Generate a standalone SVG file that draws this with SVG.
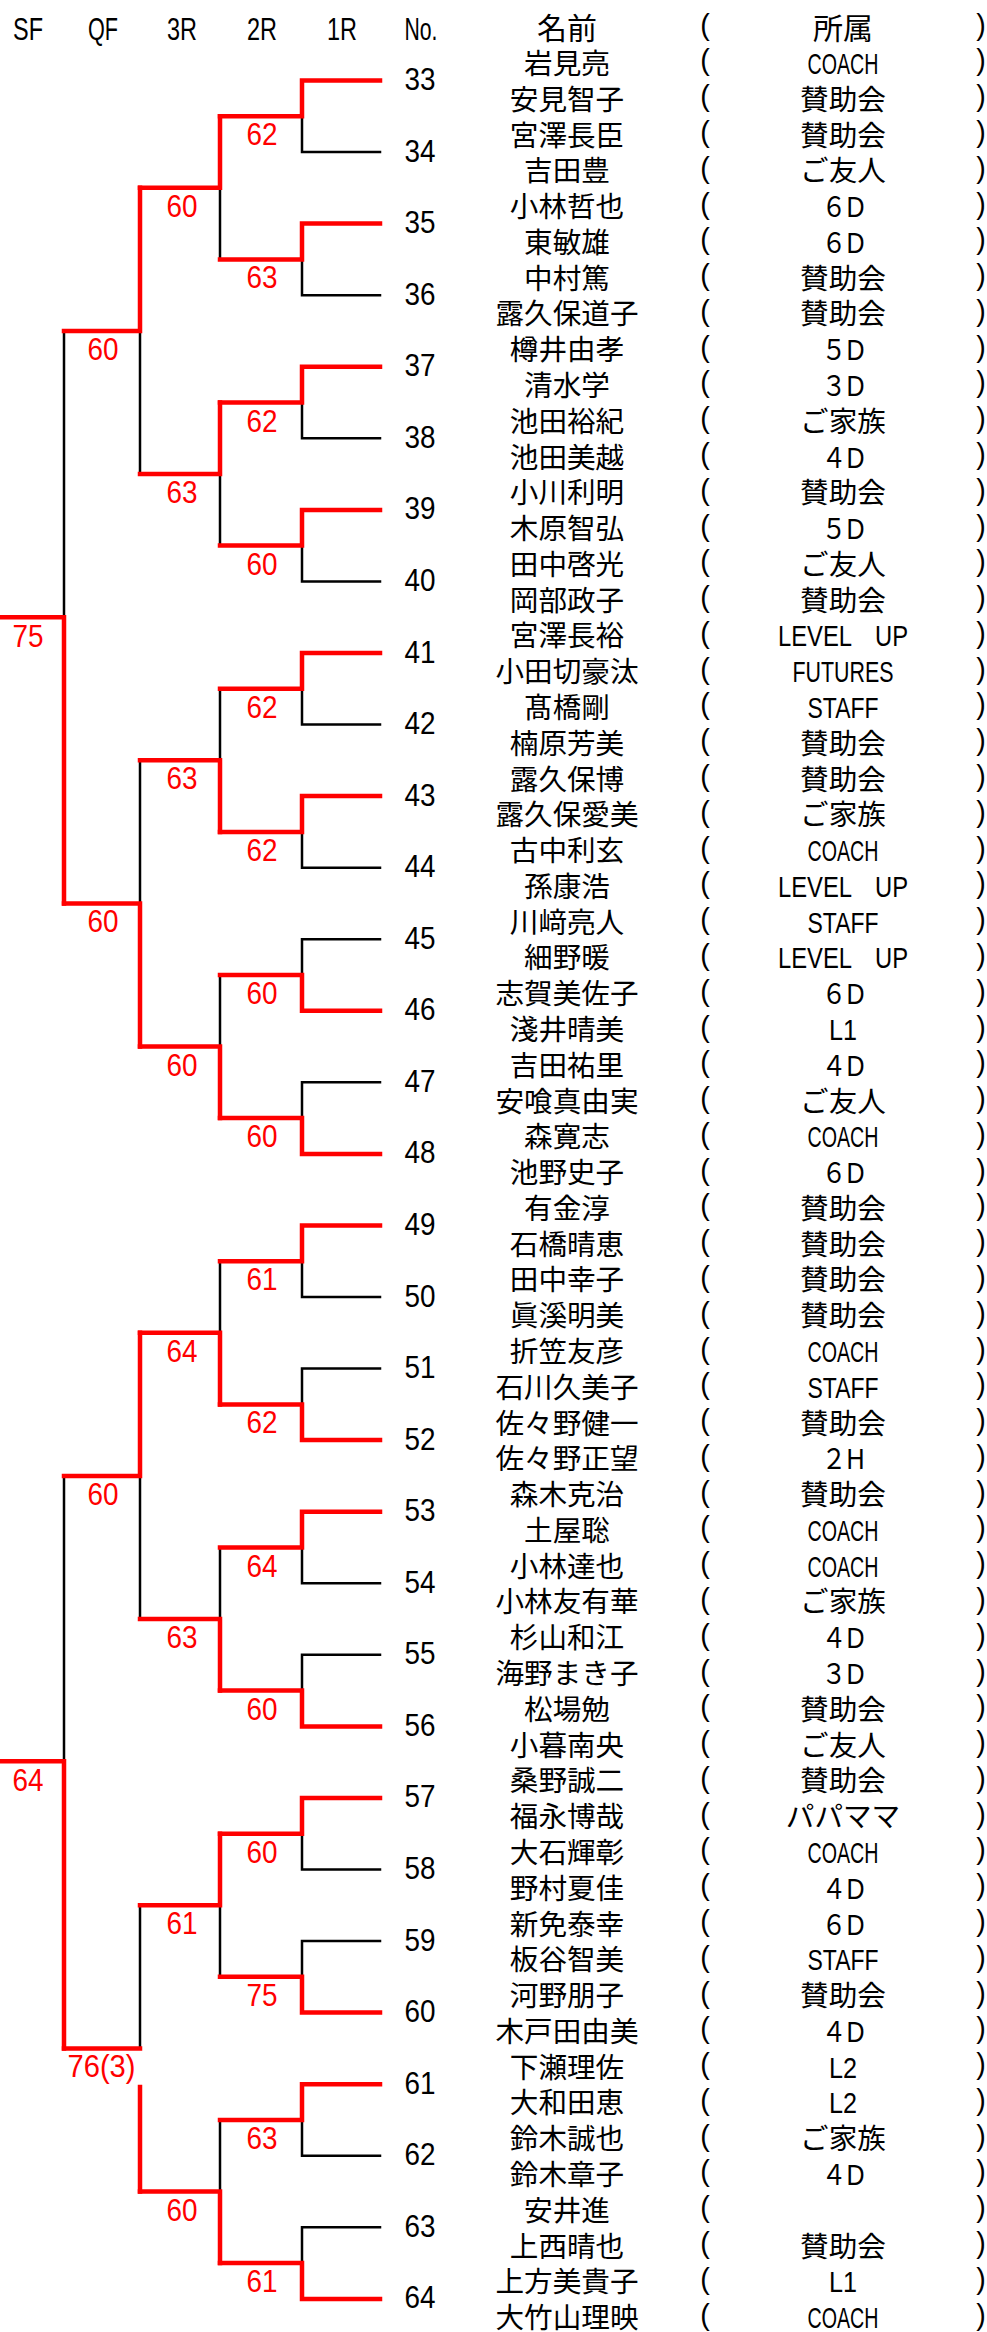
<svg xmlns="http://www.w3.org/2000/svg" width="987" height="2332" viewBox="0 0 987 2332">
<style>
text{font-family:"Liberation Sans","Noto Sans CJK JP","Noto Sans CJK SC",sans-serif;fill:#000}
.h{font-size:30px;text-anchor:middle}
.hl{font-size:32px;text-anchor:middle}
.n,.a{font-size:28.6px;text-anchor:middle}
.p{font-size:28.6px;text-anchor:middle}
.no{font-size:32px;text-anchor:middle}
.s{font-size:32px;text-anchor:middle;fill:#f00}
.bk{fill:none;stroke:#000;stroke-width:2.5;stroke-linecap:square}
.rd{fill:none;stroke:#f00;stroke-width:4.5;stroke-linecap:square;stroke-linejoin:miter}
</style>
<rect width="987" height="2332" fill="#fff"/>
<g id="header">
<text class="hl" x="28" y="39.5" textLength="30" lengthAdjust="spacingAndGlyphs">SF</text>
<text class="hl" x="103" y="39.5" textLength="30" lengthAdjust="spacingAndGlyphs">QF</text>
<text class="hl" x="182" y="39.5" textLength="30" lengthAdjust="spacingAndGlyphs">3R</text>
<text class="hl" x="262" y="39.5" textLength="30" lengthAdjust="spacingAndGlyphs">2R</text>
<text class="hl" x="342" y="39.5" textLength="30" lengthAdjust="spacingAndGlyphs">1R</text>
<text class="hl" x="421" y="39.5" textLength="33" lengthAdjust="spacingAndGlyphs">No.</text>
<text class="h" x="567" y="39">名前</text>
<text class="p" x="705" y="35.4">(</text>
<text class="h" x="843" y="39">所属</text>
<text class="p" x="981" y="35.4">)</text>
</g>
<g id="connectors">
<g id="losers">
<path class="bk" d="M380,152.1H302V116.3"/>
<path class="bk" d="M380,295.2H302V259.4"/>
<path class="bk" d="M380,438.3H302V402.5"/>
<path class="bk" d="M380,581.4H302V545.6"/>
<path class="bk" d="M380,724.5H302V688.8"/>
<path class="bk" d="M380,867.7H302V831.9"/>
<path class="bk" d="M380,939.2H302V975"/>
<path class="bk" d="M380,1082.3H302V1118.1"/>
<path class="bk" d="M380,1297H302V1261.2"/>
<path class="bk" d="M380,1368.6H302V1404.4"/>
<path class="bk" d="M380,1583.3H302V1547.5"/>
<path class="bk" d="M380,1654.8H302V1690.6"/>
<path class="bk" d="M380,1869.5H302V1833.7"/>
<path class="bk" d="M380,1941.1H302V1976.8"/>
<path class="bk" d="M380,2155.7H302V2120"/>
<path class="bk" d="M380,2227.3H302V2263.1"/>
<path class="bk" d="M220,259.4V187.8"/>
<path class="bk" d="M220,545.6V474.1"/>
<path class="bk" d="M220,688.8V760.3"/>
<path class="bk" d="M220,975V1046.6"/>
<path class="bk" d="M220,1261.2V1332.8"/>
<path class="bk" d="M220,1547.5V1619"/>
<path class="bk" d="M220,1976.8V1905.3"/>
<path class="bk" d="M220,2120V2191.5"/>
<path class="bk" d="M140,474.1V331"/>
<path class="bk" d="M140,760.3V903.4"/>
<path class="bk" d="M140,1619V1475.9"/>
<path class="bk" d="M140,1905.3V2048.4"/>
<path class="bk" d="M64,331V617.2"/>
<path class="bk" d="M64,1475.9V1761.2"/>
</g>
<g id="winners">
<path class="rd" d="M380,80.5H302V116.3H220"/>
<path class="rd" d="M380,223.6H302V259.4H220"/>
<path class="rd" d="M380,366.7H302V402.5H220"/>
<path class="rd" d="M380,509.9H302V545.6H220"/>
<path class="rd" d="M380,653H302V688.8H220"/>
<path class="rd" d="M380,796.1H302V831.9H220"/>
<path class="rd" d="M380,1010.8H302V975H220"/>
<path class="rd" d="M380,1153.9H302V1118.1H220"/>
<path class="rd" d="M380,1225.5H302V1261.2H220"/>
<path class="rd" d="M380,1440.1H302V1404.4H220"/>
<path class="rd" d="M380,1511.7H302V1547.5H220"/>
<path class="rd" d="M380,1726.4H302V1690.6H220"/>
<path class="rd" d="M380,1797.9H302V1833.7H220"/>
<path class="rd" d="M380,2012.6H302V1976.8H220"/>
<path class="rd" d="M380,2084.2H302V2120H220"/>
<path class="rd" d="M380,2298.9H302V2263.1H220"/>
<path class="rd" d="M220,116.3V187.8H140"/>
<path class="rd" d="M220,402.5V474.1H140"/>
<path class="rd" d="M220,831.9V760.3H140"/>
<path class="rd" d="M220,1118.1V1046.6H140"/>
<path class="rd" d="M220,1404.4V1332.8H140"/>
<path class="rd" d="M220,1690.6V1619H140"/>
<path class="rd" d="M220,1833.7V1905.3H140"/>
<path class="rd" d="M220,2263.1V2191.5H140"/>
<path class="rd" d="M140,187.8V331H64"/>
<path class="rd" d="M140,1046.6V903.4H64"/>
<path class="rd" d="M140,1332.8V1475.9H64"/>
<path class="rd" d="M140,2191.5V2087"/>
<path class="rd" d="M140,2048.4H64"/>
<path class="rd" d="M64,903.4V617.2H0"/>
<path class="rd" d="M64,2048.4V1761.2H0"/>
</g>
</g>
<g id="scores">
<text class="s" x="262" y="145.3" textLength="31" lengthAdjust="spacingAndGlyphs">62</text>
<text class="s" x="262" y="288.4" textLength="31" lengthAdjust="spacingAndGlyphs">63</text>
<text class="s" x="262" y="431.5" textLength="31" lengthAdjust="spacingAndGlyphs">62</text>
<text class="s" x="262" y="574.6" textLength="31" lengthAdjust="spacingAndGlyphs">60</text>
<text class="s" x="262" y="717.8" textLength="31" lengthAdjust="spacingAndGlyphs">62</text>
<text class="s" x="262" y="860.9" textLength="31" lengthAdjust="spacingAndGlyphs">62</text>
<text class="s" x="262" y="1004" textLength="31" lengthAdjust="spacingAndGlyphs">60</text>
<text class="s" x="262" y="1147.1" textLength="31" lengthAdjust="spacingAndGlyphs">60</text>
<text class="s" x="262" y="1290.2" textLength="31" lengthAdjust="spacingAndGlyphs">61</text>
<text class="s" x="262" y="1433.4" textLength="31" lengthAdjust="spacingAndGlyphs">62</text>
<text class="s" x="262" y="1576.5" textLength="31" lengthAdjust="spacingAndGlyphs">64</text>
<text class="s" x="262" y="1719.6" textLength="31" lengthAdjust="spacingAndGlyphs">60</text>
<text class="s" x="262" y="1862.7" textLength="31" lengthAdjust="spacingAndGlyphs">60</text>
<text class="s" x="262" y="2005.8" textLength="31" lengthAdjust="spacingAndGlyphs">75</text>
<text class="s" x="262" y="2149" textLength="31" lengthAdjust="spacingAndGlyphs">63</text>
<text class="s" x="262" y="2292.1" textLength="31" lengthAdjust="spacingAndGlyphs">61</text>
<text class="s" x="182" y="216.8" textLength="31" lengthAdjust="spacingAndGlyphs">60</text>
<text class="s" x="182" y="503.1" textLength="31" lengthAdjust="spacingAndGlyphs">63</text>
<text class="s" x="182" y="789.3" textLength="31" lengthAdjust="spacingAndGlyphs">63</text>
<text class="s" x="182" y="1075.6" textLength="31" lengthAdjust="spacingAndGlyphs">60</text>
<text class="s" x="182" y="1361.8" textLength="31" lengthAdjust="spacingAndGlyphs">64</text>
<text class="s" x="182" y="1648" textLength="31" lengthAdjust="spacingAndGlyphs">63</text>
<text class="s" x="182" y="1934.3" textLength="31" lengthAdjust="spacingAndGlyphs">61</text>
<text class="s" x="182" y="2220.5" textLength="31" lengthAdjust="spacingAndGlyphs">60</text>
<text class="s" x="103" y="360" textLength="31" lengthAdjust="spacingAndGlyphs">60</text>
<text class="s" x="103" y="932.4" textLength="31" lengthAdjust="spacingAndGlyphs">60</text>
<text class="s" x="103" y="1504.9" textLength="31" lengthAdjust="spacingAndGlyphs">60</text>
<text class="s" x="101.5" y="2077.4" textLength="68" lengthAdjust="spacingAndGlyphs">76(3)</text>
<text class="s" x="28" y="647.2" textLength="31" lengthAdjust="spacingAndGlyphs">75</text>
<text class="s" x="28" y="1791.2" textLength="31" lengthAdjust="spacingAndGlyphs">64</text>
</g>
<g id="e33"><text class="no" x="420" y="90" textLength="31" lengthAdjust="spacingAndGlyphs">33</text>
<g transform="translate(0,73.9)"><text class="n" x="567">岩見亮</text><text class="p" x="705" y="-3.5">(</text><text class="a" x="843" textLength="71" lengthAdjust="spacingAndGlyphs">COACH</text><text class="p" x="981" y="-3.5">)</text></g>
<g transform="translate(0,109.7)"><text class="n" x="567">安見智子</text><text class="p" x="705" y="-3.5">(</text><text class="a" x="843">賛助会</text><text class="p" x="981" y="-3.5">)</text></g></g>
<g id="e34"><text class="no" x="420" y="161.6" textLength="31" lengthAdjust="spacingAndGlyphs">34</text>
<g transform="translate(0,145.5)"><text class="n" x="567">宮澤長臣</text><text class="p" x="705" y="-3.5">(</text><text class="a" x="843">賛助会</text><text class="p" x="981" y="-3.5">)</text></g>
<g transform="translate(0,181.2)"><text class="n" x="567">吉田豊</text><text class="p" x="705" y="-3.5">(</text><text class="a" x="843">ご友人</text><text class="p" x="981" y="-3.5">)</text></g></g>
<g id="e35"><text class="no" x="420" y="233.1" textLength="31" lengthAdjust="spacingAndGlyphs">35</text>
<g transform="translate(0,217)"><text class="n" x="567">小林哲也</text><text class="p" x="705" y="-3.5">(</text><text class="a" x="843" textLength="43" lengthAdjust="spacingAndGlyphs">６D</text><text class="p" x="981" y="-3.5">)</text></g>
<g transform="translate(0,252.8)"><text class="n" x="567">東敏雄</text><text class="p" x="705" y="-3.5">(</text><text class="a" x="843" textLength="43" lengthAdjust="spacingAndGlyphs">６D</text><text class="p" x="981" y="-3.5">)</text></g></g>
<g id="e36"><text class="no" x="420" y="304.7" textLength="31" lengthAdjust="spacingAndGlyphs">36</text>
<g transform="translate(0,288.6)"><text class="n" x="567">中村篤</text><text class="p" x="705" y="-3.5">(</text><text class="a" x="843">賛助会</text><text class="p" x="981" y="-3.5">)</text></g>
<g transform="translate(0,324.4)"><text class="n" x="567">露久保道子</text><text class="p" x="705" y="-3.5">(</text><text class="a" x="843">賛助会</text><text class="p" x="981" y="-3.5">)</text></g></g>
<g id="e37"><text class="no" x="420" y="376.2" textLength="31" lengthAdjust="spacingAndGlyphs">37</text>
<g transform="translate(0,360.1)"><text class="n" x="567">樽井由孝</text><text class="p" x="705" y="-3.5">(</text><text class="a" x="843" textLength="43" lengthAdjust="spacingAndGlyphs">５D</text><text class="p" x="981" y="-3.5">)</text></g>
<g transform="translate(0,395.9)"><text class="n" x="567">清水学</text><text class="p" x="705" y="-3.5">(</text><text class="a" x="843" textLength="43" lengthAdjust="spacingAndGlyphs">３D</text><text class="p" x="981" y="-3.5">)</text></g></g>
<g id="e38"><text class="no" x="420" y="447.8" textLength="31" lengthAdjust="spacingAndGlyphs">38</text>
<g transform="translate(0,431.7)"><text class="n" x="567">池田裕紀</text><text class="p" x="705" y="-3.5">(</text><text class="a" x="843">ご家族</text><text class="p" x="981" y="-3.5">)</text></g>
<g transform="translate(0,467.5)"><text class="n" x="567">池田美越</text><text class="p" x="705" y="-3.5">(</text><text class="a" x="843" textLength="43" lengthAdjust="spacingAndGlyphs">４D</text><text class="p" x="981" y="-3.5">)</text></g></g>
<g id="e39"><text class="no" x="420" y="519.4" textLength="31" lengthAdjust="spacingAndGlyphs">39</text>
<g transform="translate(0,503.3)"><text class="n" x="567">小川利明</text><text class="p" x="705" y="-3.5">(</text><text class="a" x="843">賛助会</text><text class="p" x="981" y="-3.5">)</text></g>
<g transform="translate(0,539)"><text class="n" x="567">木原智弘</text><text class="p" x="705" y="-3.5">(</text><text class="a" x="843" textLength="43" lengthAdjust="spacingAndGlyphs">５D</text><text class="p" x="981" y="-3.5">)</text></g></g>
<g id="e40"><text class="no" x="420" y="590.9" textLength="31" lengthAdjust="spacingAndGlyphs">40</text>
<g transform="translate(0,574.8)"><text class="n" x="567">田中啓光</text><text class="p" x="705" y="-3.5">(</text><text class="a" x="843">ご友人</text><text class="p" x="981" y="-3.5">)</text></g>
<g transform="translate(0,610.6)"><text class="n" x="567">岡部政子</text><text class="p" x="705" y="-3.5">(</text><text class="a" x="843">賛助会</text><text class="p" x="981" y="-3.5">)</text></g></g>
<g id="e41"><text class="no" x="420" y="662.5" textLength="31" lengthAdjust="spacingAndGlyphs">41</text>
<g transform="translate(0,646.4)"><text class="n" x="567">宮澤長裕</text><text class="p" x="705" y="-3.5">(</text><text class="a" x="843" textLength="130" lengthAdjust="spacingAndGlyphs">LEVEL　UP</text><text class="p" x="981" y="-3.5">)</text></g>
<g transform="translate(0,682.2)"><text class="n" x="567">小田切豪汰</text><text class="p" x="705" y="-3.5">(</text><text class="a" x="843" textLength="101" lengthAdjust="spacingAndGlyphs">FUTURES</text><text class="p" x="981" y="-3.5">)</text></g></g>
<g id="e42"><text class="no" x="420" y="734" textLength="31" lengthAdjust="spacingAndGlyphs">42</text>
<g transform="translate(0,717.9)"><text class="n" x="567">髙橋剛</text><text class="p" x="705" y="-3.5">(</text><text class="a" x="843" textLength="71" lengthAdjust="spacingAndGlyphs">STAFF</text><text class="p" x="981" y="-3.5">)</text></g>
<g transform="translate(0,753.7)"><text class="n" x="567">楠原芳美</text><text class="p" x="705" y="-3.5">(</text><text class="a" x="843">賛助会</text><text class="p" x="981" y="-3.5">)</text></g></g>
<g id="e43"><text class="no" x="420" y="805.6" textLength="31" lengthAdjust="spacingAndGlyphs">43</text>
<g transform="translate(0,789.5)"><text class="n" x="567">露久保博</text><text class="p" x="705" y="-3.5">(</text><text class="a" x="843">賛助会</text><text class="p" x="981" y="-3.5">)</text></g>
<g transform="translate(0,825.3)"><text class="n" x="567">露久保愛美</text><text class="p" x="705" y="-3.5">(</text><text class="a" x="843">ご家族</text><text class="p" x="981" y="-3.5">)</text></g></g>
<g id="e44"><text class="no" x="420" y="877.2" textLength="31" lengthAdjust="spacingAndGlyphs">44</text>
<g transform="translate(0,861.1)"><text class="n" x="567">古中利玄</text><text class="p" x="705" y="-3.5">(</text><text class="a" x="843" textLength="71" lengthAdjust="spacingAndGlyphs">COACH</text><text class="p" x="981" y="-3.5">)</text></g>
<g transform="translate(0,896.8)"><text class="n" x="567">孫康浩</text><text class="p" x="705" y="-3.5">(</text><text class="a" x="843" textLength="130" lengthAdjust="spacingAndGlyphs">LEVEL　UP</text><text class="p" x="981" y="-3.5">)</text></g></g>
<g id="e45"><text class="no" x="420" y="948.7" textLength="31" lengthAdjust="spacingAndGlyphs">45</text>
<g transform="translate(0,932.6)"><text class="n" x="567">川﨑亮人</text><text class="p" x="705" y="-3.5">(</text><text class="a" x="843" textLength="71" lengthAdjust="spacingAndGlyphs">STAFF</text><text class="p" x="981" y="-3.5">)</text></g>
<g transform="translate(0,968.4)"><text class="n" x="567">細野暖</text><text class="p" x="705" y="-3.5">(</text><text class="a" x="843" textLength="130" lengthAdjust="spacingAndGlyphs">LEVEL　UP</text><text class="p" x="981" y="-3.5">)</text></g></g>
<g id="e46"><text class="no" x="420" y="1020.3" textLength="31" lengthAdjust="spacingAndGlyphs">46</text>
<g transform="translate(0,1004.2)"><text class="n" x="567">志賀美佐子</text><text class="p" x="705" y="-3.5">(</text><text class="a" x="843" textLength="43" lengthAdjust="spacingAndGlyphs">６D</text><text class="p" x="981" y="-3.5">)</text></g>
<g transform="translate(0,1040)"><text class="n" x="567">淺井晴美</text><text class="p" x="705" y="-3.5">(</text><text class="a" x="843" textLength="28" lengthAdjust="spacingAndGlyphs">L1</text><text class="p" x="981" y="-3.5">)</text></g></g>
<g id="e47"><text class="no" x="420" y="1091.8" textLength="31" lengthAdjust="spacingAndGlyphs">47</text>
<g transform="translate(0,1075.7)"><text class="n" x="567">吉田祐里</text><text class="p" x="705" y="-3.5">(</text><text class="a" x="843" textLength="43" lengthAdjust="spacingAndGlyphs">４D</text><text class="p" x="981" y="-3.5">)</text></g>
<g transform="translate(0,1111.5)"><text class="n" x="567">安喰真由実</text><text class="p" x="705" y="-3.5">(</text><text class="a" x="843">ご友人</text><text class="p" x="981" y="-3.5">)</text></g></g>
<g id="e48"><text class="no" x="420" y="1163.4" textLength="31" lengthAdjust="spacingAndGlyphs">48</text>
<g transform="translate(0,1147.3)"><text class="n" x="567">森寛志</text><text class="p" x="705" y="-3.5">(</text><text class="a" x="843" textLength="71" lengthAdjust="spacingAndGlyphs">COACH</text><text class="p" x="981" y="-3.5">)</text></g>
<g transform="translate(0,1183.1)"><text class="n" x="567">池野史子</text><text class="p" x="705" y="-3.5">(</text><text class="a" x="843" textLength="43" lengthAdjust="spacingAndGlyphs">６D</text><text class="p" x="981" y="-3.5">)</text></g></g>
<g id="e49"><text class="no" x="420" y="1235" textLength="31" lengthAdjust="spacingAndGlyphs">49</text>
<g transform="translate(0,1218.9)"><text class="n" x="567">有金淳</text><text class="p" x="705" y="-3.5">(</text><text class="a" x="843">賛助会</text><text class="p" x="981" y="-3.5">)</text></g>
<g transform="translate(0,1254.6)"><text class="n" x="567">石橋晴恵</text><text class="p" x="705" y="-3.5">(</text><text class="a" x="843">賛助会</text><text class="p" x="981" y="-3.5">)</text></g></g>
<g id="e50"><text class="no" x="420" y="1306.5" textLength="31" lengthAdjust="spacingAndGlyphs">50</text>
<g transform="translate(0,1290.4)"><text class="n" x="567">田中幸子</text><text class="p" x="705" y="-3.5">(</text><text class="a" x="843">賛助会</text><text class="p" x="981" y="-3.5">)</text></g>
<g transform="translate(0,1326.2)"><text class="n" x="567">眞溪明美</text><text class="p" x="705" y="-3.5">(</text><text class="a" x="843">賛助会</text><text class="p" x="981" y="-3.5">)</text></g></g>
<g id="e51"><text class="no" x="420" y="1378.1" textLength="31" lengthAdjust="spacingAndGlyphs">51</text>
<g transform="translate(0,1362)"><text class="n" x="567">折笠友彦</text><text class="p" x="705" y="-3.5">(</text><text class="a" x="843" textLength="71" lengthAdjust="spacingAndGlyphs">COACH</text><text class="p" x="981" y="-3.5">)</text></g>
<g transform="translate(0,1397.8)"><text class="n" x="567">石川久美子</text><text class="p" x="705" y="-3.5">(</text><text class="a" x="843" textLength="71" lengthAdjust="spacingAndGlyphs">STAFF</text><text class="p" x="981" y="-3.5">)</text></g></g>
<g id="e52"><text class="no" x="420" y="1449.6" textLength="31" lengthAdjust="spacingAndGlyphs">52</text>
<g transform="translate(0,1433.5)"><text class="n" x="567">佐々野健一</text><text class="p" x="705" y="-3.5">(</text><text class="a" x="843">賛助会</text><text class="p" x="981" y="-3.5">)</text></g>
<g transform="translate(0,1469.3)"><text class="n" x="567">佐々野正望</text><text class="p" x="705" y="-3.5">(</text><text class="a" x="843" textLength="43" lengthAdjust="spacingAndGlyphs">２H</text><text class="p" x="981" y="-3.5">)</text></g></g>
<g id="e53"><text class="no" x="420" y="1521.2" textLength="31" lengthAdjust="spacingAndGlyphs">53</text>
<g transform="translate(0,1505.1)"><text class="n" x="567">森木克治</text><text class="p" x="705" y="-3.5">(</text><text class="a" x="843">賛助会</text><text class="p" x="981" y="-3.5">)</text></g>
<g transform="translate(0,1540.9)"><text class="n" x="567">土屋聡</text><text class="p" x="705" y="-3.5">(</text><text class="a" x="843" textLength="71" lengthAdjust="spacingAndGlyphs">COACH</text><text class="p" x="981" y="-3.5">)</text></g></g>
<g id="e54"><text class="no" x="420" y="1592.8" textLength="31" lengthAdjust="spacingAndGlyphs">54</text>
<g transform="translate(0,1576.7)"><text class="n" x="567">小林達也</text><text class="p" x="705" y="-3.5">(</text><text class="a" x="843" textLength="71" lengthAdjust="spacingAndGlyphs">COACH</text><text class="p" x="981" y="-3.5">)</text></g>
<g transform="translate(0,1612.4)"><text class="n" x="567">小林友有華</text><text class="p" x="705" y="-3.5">(</text><text class="a" x="843">ご家族</text><text class="p" x="981" y="-3.5">)</text></g></g>
<g id="e55"><text class="no" x="420" y="1664.3" textLength="31" lengthAdjust="spacingAndGlyphs">55</text>
<g transform="translate(0,1648.2)"><text class="n" x="567">杉山和江</text><text class="p" x="705" y="-3.5">(</text><text class="a" x="843" textLength="43" lengthAdjust="spacingAndGlyphs">４D</text><text class="p" x="981" y="-3.5">)</text></g>
<g transform="translate(0,1684)"><text class="n" x="567">海野まき子</text><text class="p" x="705" y="-3.5">(</text><text class="a" x="843" textLength="43" lengthAdjust="spacingAndGlyphs">３D</text><text class="p" x="981" y="-3.5">)</text></g></g>
<g id="e56"><text class="no" x="420" y="1735.9" textLength="31" lengthAdjust="spacingAndGlyphs">56</text>
<g transform="translate(0,1719.8)"><text class="n" x="567">松場勉</text><text class="p" x="705" y="-3.5">(</text><text class="a" x="843">賛助会</text><text class="p" x="981" y="-3.5">)</text></g>
<g transform="translate(0,1755.6)"><text class="n" x="567">小暮南央</text><text class="p" x="705" y="-3.5">(</text><text class="a" x="843">ご友人</text><text class="p" x="981" y="-3.5">)</text></g></g>
<g id="e57"><text class="no" x="420" y="1807.4" textLength="31" lengthAdjust="spacingAndGlyphs">57</text>
<g transform="translate(0,1791.3)"><text class="n" x="567">桑野誠二</text><text class="p" x="705" y="-3.5">(</text><text class="a" x="843">賛助会</text><text class="p" x="981" y="-3.5">)</text></g>
<g transform="translate(0,1827.1)"><text class="n" x="567">福永博哉</text><text class="p" x="705" y="-3.5">(</text><text class="a" x="843">パパママ</text><text class="p" x="981" y="-3.5">)</text></g></g>
<g id="e58"><text class="no" x="420" y="1879" textLength="31" lengthAdjust="spacingAndGlyphs">58</text>
<g transform="translate(0,1862.9)"><text class="n" x="567">大石輝彰</text><text class="p" x="705" y="-3.5">(</text><text class="a" x="843" textLength="71" lengthAdjust="spacingAndGlyphs">COACH</text><text class="p" x="981" y="-3.5">)</text></g>
<g transform="translate(0,1898.7)"><text class="n" x="567">野村夏佳</text><text class="p" x="705" y="-3.5">(</text><text class="a" x="843" textLength="43" lengthAdjust="spacingAndGlyphs">４D</text><text class="p" x="981" y="-3.5">)</text></g></g>
<g id="e59"><text class="no" x="420" y="1950.6" textLength="31" lengthAdjust="spacingAndGlyphs">59</text>
<g transform="translate(0,1934.5)"><text class="n" x="567">新免泰幸</text><text class="p" x="705" y="-3.5">(</text><text class="a" x="843" textLength="43" lengthAdjust="spacingAndGlyphs">６D</text><text class="p" x="981" y="-3.5">)</text></g>
<g transform="translate(0,1970.2)"><text class="n" x="567">板谷智美</text><text class="p" x="705" y="-3.5">(</text><text class="a" x="843" textLength="71" lengthAdjust="spacingAndGlyphs">STAFF</text><text class="p" x="981" y="-3.5">)</text></g></g>
<g id="e60"><text class="no" x="420" y="2022.1" textLength="31" lengthAdjust="spacingAndGlyphs">60</text>
<g transform="translate(0,2006)"><text class="n" x="567">河野朋子</text><text class="p" x="705" y="-3.5">(</text><text class="a" x="843">賛助会</text><text class="p" x="981" y="-3.5">)</text></g>
<g transform="translate(0,2041.8)"><text class="n" x="567">木戸田由美</text><text class="p" x="705" y="-3.5">(</text><text class="a" x="843" textLength="43" lengthAdjust="spacingAndGlyphs">４D</text><text class="p" x="981" y="-3.5">)</text></g></g>
<g id="e61"><text class="no" x="420" y="2093.7" textLength="31" lengthAdjust="spacingAndGlyphs">61</text>
<g transform="translate(0,2077.6)"><text class="n" x="567">下瀬理佐</text><text class="p" x="705" y="-3.5">(</text><text class="a" x="843" textLength="28" lengthAdjust="spacingAndGlyphs">L2</text><text class="p" x="981" y="-3.5">)</text></g>
<g transform="translate(0,2113.4)"><text class="n" x="567">大和田恵</text><text class="p" x="705" y="-3.5">(</text><text class="a" x="843" textLength="28" lengthAdjust="spacingAndGlyphs">L2</text><text class="p" x="981" y="-3.5">)</text></g></g>
<g id="e62"><text class="no" x="420" y="2165.2" textLength="31" lengthAdjust="spacingAndGlyphs">62</text>
<g transform="translate(0,2149.1)"><text class="n" x="567">鈴木誠也</text><text class="p" x="705" y="-3.5">(</text><text class="a" x="843">ご家族</text><text class="p" x="981" y="-3.5">)</text></g>
<g transform="translate(0,2184.9)"><text class="n" x="567">鈴木章子</text><text class="p" x="705" y="-3.5">(</text><text class="a" x="843" textLength="43" lengthAdjust="spacingAndGlyphs">４D</text><text class="p" x="981" y="-3.5">)</text></g></g>
<g id="e63"><text class="no" x="420" y="2236.8" textLength="31" lengthAdjust="spacingAndGlyphs">63</text>
<g transform="translate(0,2220.7)"><text class="n" x="567">安井進</text><text class="p" x="705" y="-3.5">(</text><text class="p" x="981" y="-3.5">)</text></g>
<g transform="translate(0,2256.5)"><text class="n" x="567">上西晴也</text><text class="p" x="705" y="-3.5">(</text><text class="a" x="843">賛助会</text><text class="p" x="981" y="-3.5">)</text></g></g>
<g id="e64"><text class="no" x="420" y="2308.4" textLength="31" lengthAdjust="spacingAndGlyphs">64</text>
<g transform="translate(0,2292.3)"><text class="n" x="567">上方美貴子</text><text class="p" x="705" y="-3.5">(</text><text class="a" x="843" textLength="28" lengthAdjust="spacingAndGlyphs">L1</text><text class="p" x="981" y="-3.5">)</text></g>
<g transform="translate(0,2328)"><text class="n" x="567">大竹山理映</text><text class="p" x="705" y="-3.5">(</text><text class="a" x="843" textLength="71" lengthAdjust="spacingAndGlyphs">COACH</text><text class="p" x="981" y="-3.5">)</text></g></g>
</svg>
